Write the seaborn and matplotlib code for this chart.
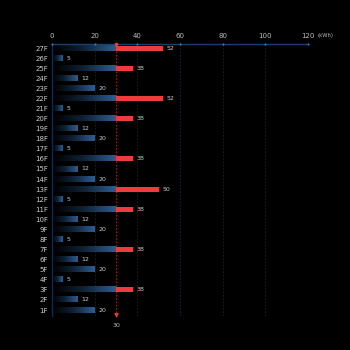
import matplotlib
matplotlib.use("Agg")
import matplotlib.pyplot as plt
import numpy as np
import pandas as pd
import seaborn as sns
from matplotlib.colors import LinearSegmentedColormap

floors = [f"{i}F" for i in range(27, 0, -1)]
energy = [52, 5, 38, 12, 20, 52, 5, 38, 12, 20, 5, 38, 12, 20, 50, 5, 38, 12, 20, 5, 38, 12, 20, 5, 38, 12, 20]
limit = 30
xticks = [0, 20, 40, 60, 80, 100, 120]

df = pd.DataFrame({"floor": floors, "energy": energy})
df["base"] = df["energy"].clip(upper=limit)
df["over"] = (df["energy"] - limit).clip(lower=0)

sns.set_style("dark", {"axes.facecolor": "black", "figure.facecolor": "black"})
plt.rcParams["font.family"] = ["DejaVu Sans"]

fig = plt.figure(figsize=(3.5, 3.5), dpi=100)
ax = fig.add_axes([0.149, 0.097, 0.731, 0.777])
fig.patch.set_facecolor("black")

sns.barplot(data=df, y="floor", x="base", orient="h", ax=ax, width=0.5,
            color="#2c5e8e", saturation=1)

# swap seaborn's flat bars for a left-to-right fade
blue_cmap = LinearSegmentedColormap.from_list("fade", ["#000000", "#0f2236", "#2c5d90"])
grad = np.linspace(0, 1, 64).reshape(1, -1)
for bar in list(ax.patches):
    x0, y0 = bar.get_x(), bar.get_y()
    w, h = bar.get_width(), bar.get_height()
    bar.set_visible(False)
    ax.imshow(grad, cmap=blue_cmap, aspect="auto", extent=[x0, x0 + w, y0 + h, y0],
              interpolation="bicubic", zorder=2)

ypos = np.arange(len(floors))
over = df["over"].values
mask = over > 0
ax.barh(ypos[mask], over[mask], left=limit, height=0.5, color="#ee3b3b",
        edgecolor="none", linewidth=0, zorder=3)

for y, v in zip(ypos, energy):
    ax.text(v + 1.8, y, str(v), color="#c8c8c8", fontsize=4.5, va="center", ha="left")

ax.set_xlim(0, 120)
ax.set_ylim(len(floors) - 0.4, -0.4)
ax.xaxis.tick_top()
ax.set_xticks(xticks)
ax.set_xticklabels([str(t) for t in xticks], color="#bbbbbb", fontsize=5)
ax.annotate("(kWh)", xy=(1.0, 1.0), xycoords="axes fraction", xytext=(7, 4.3),
            textcoords="offset points", color="#bbbbbb", fontsize=3.8,
            va="bottom", ha="left")
ax.tick_params(axis="x", length=0, pad=4)
ax.tick_params(axis="y", length=0, pad=3, labelsize=5, labelcolor="#cccccc")
ax.set_xlabel("")
ax.set_ylabel("")
ax.grid(False)

for t in xticks[1:]:
    ax.axvline(t, color="#0f2744", lw=0.6, ls=(0, (2, 2)), zorder=1)
ax.axvline(limit, color="#b02828", lw=0.6, ls=(0, (2, 2)), zorder=1)

for s in ["right", "bottom"]:
    ax.spines[s].set_visible(False)
ax.spines["top"].set_color("#17406a")
ax.spines["top"].set_linewidth(1.0)
ax.spines["left"].set_color("#0e2a48")
ax.spines["left"].set_linewidth(1.0)

top = -0.4
ax.scatter(xticks, [top] * len(xticks), s=2, color="#2f86d6", zorder=5,
           clip_on=False, linewidths=0)
ax.scatter([limit], [top], s=7, color="#ee3b3b", zorder=6, clip_on=False, linewidths=0)
ax.scatter([limit], [len(floors) - 0.55], s=12, color="#ee3b3b", marker="v", zorder=6,
           clip_on=False, linewidths=0)
ax.text(limit, len(floors) + 0.3, "30", color="#bbbbbb", fontsize=4.5, ha="center", va="top")

fig.savefig("out.png", dpi=100, facecolor="black")
